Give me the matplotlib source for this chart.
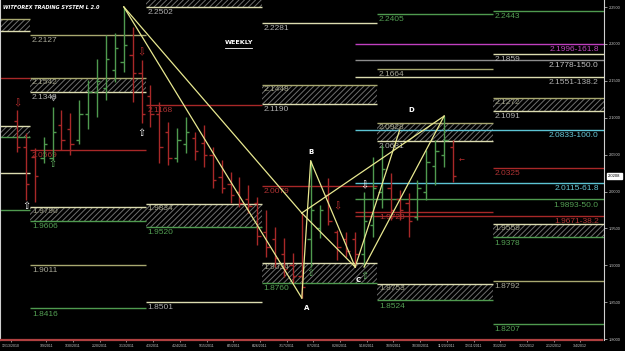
import numpy as np
import matplotlib.pyplot as plt
from matplotlib.patches import Rectangle

# weekly OHLC bars (bar 0 = week of 12/12/2010)
opens = [2.095, 2.060, 2.047, 2.045, 2.045, 2.090, 2.085, 2.070, 2.105, 2.135,
         2.140, 2.165, 2.175, 2.185, 2.160, 2.130, 2.105, 2.080, 2.045, 2.065,
         2.072, 2.066, 2.050, 2.020, 2.010, 2.000, 1.990, 1.985, 1.945, 1.935,
         1.915, 1.900, 1.885, 1.935, 1.950, 1.995, 1.945, 1.935, 1.935, 1.915,
         1.955, 2.000, 2.005, 1.990, 1.985, 1.965, 2.000, 2.035, 2.050, 2.060]
highs = [2.1105, 2.0793, 2.0590, 2.0739, 2.1145, 2.1105, 2.1064, 2.1240, 2.1511, 2.1796,
         2.2121, 2.2148, 2.2502, 2.2229, 2.1782, 2.1443, 2.1213, 2.0942, 2.0861, 2.1010,
         2.0806, 2.0901, 2.0603, 2.0427, 2.0264, 2.0197, 2.0088, 1.9926, 1.9750, 1.9519,
         1.9370, 1.9167, 1.9709, 2.0413, 1.9817, 2.0183, 1.9479, 1.9451, 1.9451, 1.9993,
         2.0468, 2.0630, 2.0251, 2.0021, 1.9980, 2.0156, 2.0563, 2.0698, 2.1023, 2.0698]
lows = [2.0535, 1.9885, 1.9858, 2.0386, 2.0427, 2.0563, 2.0495, 2.0644, 2.0847, 2.1010,
        2.1240, 2.1484, 2.1619, 2.1213, 2.0928, 2.0874, 2.0386, 2.0359, 2.0400, 2.0522,
        2.0427, 2.0332, 2.0048, 1.9980, 1.9844, 1.9790, 1.9709, 1.9275, 1.9113, 1.8977,
        1.8842, 1.8760, 1.8557, 1.8977, 1.9370, 1.9546, 1.9072, 1.9113, 1.8977, 1.8977,
        1.9384, 1.9777, 1.9614, 1.9614, 1.9384, 1.9614, 1.9885, 2.0088, 2.0332, 2.0129]
closes = [2.060, 2.010, 2.021, 2.065, 2.080, 2.070, 2.065, 2.105, 2.135, 2.150,
          2.180, 2.195, 2.199, 2.160, 2.105, 2.105, 2.060, 2.045, 2.070, 2.080,
          2.055, 2.050, 2.015, 2.005, 1.995, 1.985, 1.980, 1.940, 1.925, 1.910,
          1.895, 1.885, 1.870, 1.975, 1.975, 1.960, 1.925, 1.920, 1.915, 1.960,
          2.005, 2.030, 1.975, 1.975, 1.960, 2.005, 2.040, 2.055, 2.070, 2.0208]
last_price = 2.0208

# quarterly pivot periods (in bars)
period_edges = [-1.91, 1.5, 14.5, 27.5, 40.5, 53.5, 65.96]

# single levels: (period, price, label, kind)
levels = [
    (0, 2.1538, '', 'red'), (0, 2.0251, '', 'cream'), (0, 1.9750, '', 'green'),
    (1, 2.2127, '2.2127', 'olive'), (1, 2.0569, '2.0569', 'red'),
    (1, 1.9011, '1.9011', 'olive'), (1, 1.8416, '1.8416', 'green'),
    (2, 2.1168, '2.1168', 'red'), (2, 1.8501, '1.8501', 'cream'),
    (3, 2.2281, '2.2281', 'cream'), (3, 2.0079, '2.0079', 'red'),
    (4, 2.2405, '2.2405', 'green'), (4, 2.1664, '2.1664', 'olive'),
    (5, 2.2443, '2.2443', 'green'), (5, 2.1859, '2.1859', 'cream'),
    (5, 2.0325, '2.0325', 'red'), (5, 1.8792, '1.8792', 'olive'),
    (5, 1.8207, '1.8207', 'green'),
]

# hatched zones: (period, top, bottom, top label, bottom label, side)
zones = [
    (0, 2.2338, 2.2175, '', '', 'hi'), (0, 2.0888, 2.0739, '', '', 'lo'),
    (1, 2.1542, 2.1348, '2.1542', '2.1348', 'hi'), (1, 1.9790, 1.9606, '1.9790', '1.9606', 'lo'),
    (2, 2.2700, 2.2502, '', '2.2502', 'hi'), (2, 1.9834, 1.9520, '1.9834', '1.9520', 'lo'),
    (3, 2.1448, 2.1190, '2.1448', '2.1190', 'hi'), (3, 1.9034, 1.8760, '1.9034', '1.8760', 'lo'),
    (4, 2.0928, 2.0681, '2.0928', '2.0681', 'hi'), (4, 1.8753, 1.8524, '1.8753', '1.8524', 'lo'),
    (5, 2.1272, 2.1091, '2.1272', '2.1091', 'hi'), (5, 1.9559, 1.9378, '1.9559', '1.9378', 'lo'),
]

# AB=CD projection levels, drawn from point C
fib_start = 38
fib_levels = [(2.1996, '2.1996-161.8', 'magenta'), (2.1778, '2.1778-150.0', 'gray'),
              (2.1551, '2.1551-138.2', 'cream'), (2.0833, '2.0833-100.0', 'cyan'),
              (2.0115, '2.0115-61.8', 'cyan'), (1.9893, '1.9893-50.0', 'green'),
              (1.9671, '1.9671-38.2', 'red')]
extra_level = (38, 53.5, 1.9728, '1.9728', 'red')

# harmonic pattern points (bar, price)
pX = (12, 2.2502)
pA = (32, 1.8557)
pA2 = (32, 1.9709)
pB = (33, 2.0413)
pC = (38, 1.8977)
pC2 = (39, 1.8977)
pD = (48, 2.1023)
pT = (43, 2.0833)
pattern_legs = [(pX, pA), (pX, pA2), (pA, pB), (pB, pC), (pA2, pC), (pA2, pD), (pC2, pD), (pC, pT)]
point_labels = [('A', 32.6, 1.842), ('B', 33.0, 2.054), ('C', 38.3, 1.880), ('D', 44.3, 2.111)]

# signal arrows: (bar, price, symbol, colour)
signals = [(0, 2.119, '\u21e9', '#c03030'), (1, 1.981, '\u21e7', 'white'),
           (4, 2.037, '\u21e7', '#60b060'),
           (14, 2.188, '\u21e9', '#c03030'), (14, 2.079, '\u21e7', 'white'),
           (36, 1.980, '\u21e9', '#c03030'), (39, 2.009, '\u21e9', 'white'),
           (33, 1.890, '\u21e7', '#60b060'), (39, 1.885, '\u21e7', '#60b060')]
exit_marks = [(4, 2.127)]

date_labels = ['12/13/2010', '1/9/2011', '1/30/2011', '2/20/2011', '3/13/2011', '4/3/2011',
               '4/24/2011', '5/15/2011', '6/5/2011', '6/26/2011', '7/17/2011', '8/7/2011',
               '8/28/2011', '9/18/2011', '10/9/2011', '10/30/2011', '11/20/2011', '12/11/2011',
               '1/1/2012', '1/22/2012', '2/12/2012', '3/4/2012']
date_bars = [0] + list(range(4, 65, 3))

colors = {'olive': '#a8a870', 'green': '#4f9a4f', 'red': '#a82828', 'cream': '#dcdcb0',
          'gray': '#8c8c8c', 'magenta': '#c040c0', 'cyan': '#5cc4d4'}
label_colors = {'olive': '#a8a898', 'green': '#54a054', 'red': '#b03434', 'cream': '#b0b0b0',
                'gray': '#c0c0c0', 'magenta': '#c048c0', 'cyan': '#68c8d8'}

plt.rcParams['hatch.linewidth'] = 0.7
plt.rcParams['font.family'] = ['Liberation Sans', 'DejaVu Sans']
fig = plt.figure(figsize=(6.25, 3.51), dpi=100, facecolor='black')
ax = fig.add_axes([0.0, 0.0313, 0.9664, 0.9687])
ax.set_facecolor('black')
ax.set_xlim(-1.91, 65.96)
ax.set_ylim(1.7988, 2.2595)

lab_kw = dict(fontsize=6, va='top', ha='left', textcoords='offset points')

# zones
for per, top, bot, tl, bl, side in zones:
    x0, x1 = period_edges[per], period_edges[per + 1]
    ax.add_patch(Rectangle((x0, bot), x1 - x0, top - bot, fill=False, hatch='//////',
                           edgecolor='#6e6e6e', linewidth=0, zorder=1))
    top_c = colors['olive'] if side == 'hi' else colors['cream']
    bot_c = colors['cream'] if side == 'hi' else colors['green']
    ax.hlines(top, x0, x1, color=top_c, lw=1, zorder=2)
    ax.hlines(bot, x0, x1, color=bot_c, lw=1, zorder=2)
    if tl:
        ax.annotate(tl, (x0 + 0.1, top), xytext=(0.5, -1), color='#a0a088', **lab_kw)
    if bl:
        ax.annotate(bl, (x0 + 0.1, bot), xytext=(0.5, -1.5),
                    color='#b0b0b0' if side == 'hi' else '#54a054', **lab_kw)

# pivot lines
for per, price, lab, kind in levels:
    x0, x1 = period_edges[per], period_edges[per + 1]
    ax.hlines(price, x0, x1, color=colors[kind], lw=1, zorder=2)
    if lab:
        ax.annotate(lab, (x0 + 0.1, price), xytext=(0.5, -1.5), color=label_colors[kind], **lab_kw)

x0, x1, price, lab, kind = extra_level
ax.hlines(price, x0, x1, color=colors[kind], lw=1, zorder=2)
ax.annotate(lab, (period_edges[4] + 0.1, price), xytext=(0.5, -1.5), color=label_colors[kind], **lab_kw)

# projection levels
for price, lab, kind in fib_levels:
    ax.hlines(price, fib_start, period_edges[-1], color=colors[kind], lw=1, zorder=2)
    ax.annotate(lab, (period_edges[-1] - 0.6, price), xytext=(0, -1.5), color=label_colors[kind],
                fontsize=6, va='top', ha='right', textcoords='offset points')

# OHLC bars
x = np.arange(len(opens))
up = np.array(closes) >= np.array(opens)
bar_c = np.where(up, '#4f9a4f', '#a82828')
ax.vlines(x, lows, highs, colors=bar_c, lw=1, zorder=3)
ax.hlines(opens, x - 0.38, x, colors=bar_c, lw=1, zorder=3)
ax.hlines(closes, x, x + 0.38, colors=bar_c, lw=1, zorder=3)

# pattern
for p, q in pattern_legs:
    ax.plot([p[0], q[0]], [p[1], q[1]], color='#e8e890', lw=0.9, zorder=4)
for lab, bx, py in point_labels:
    ax.text(bx, py, lab, color='white', fontsize=5, fontweight='bold', ha='center', va='center',
            family='DejaVu Sans', zorder=5)

for bx, py, sym, c in signals:
    ax.text(bx, py, sym, color=c, fontsize=7, ha='center', va='center', family='DejaVu Sans', zorder=5)
for bx, py in exit_marks:
    ax.plot(bx, py, marker='v', ms=3.5, mfc='none', mec='#a0a0a0', mew=0.6, zorder=5)
ax.text(49.6, 2.0413, '\u2190', color='#c03030', fontsize=5, ha='left', va='center',
        family='DejaVu Sans', zorder=5)

# texts
ax.text(0.005, 0.985, 'WITFOREX TRADING SYSTEM L 2.0', transform=ax.transAxes, color='white',
        fontsize=3.6, fontweight='bold', fontstyle='italic', va='top', ha='left', family='DejaVu Sans')
ax.text(0.395, 0.875, 'WEEKLY', transform=ax.transAxes, color='white', fontsize=4.6,
        fontweight='bold', ha='center', va='center', family='DejaVu Sans')
ax.plot([0.372, 0.418], [0.86, 0.86], transform=ax.transAxes, color='white', lw=0.6)

# axes
ax.spines['top'].set_visible(False)
ax.spines['left'].set_color('#d0d0d0')
ax.spines['right'].set_color('#d0d0d0')
ax.spines['bottom'].set_color('#b04040')
ax.spines['bottom'].set_linewidth(1.6)
ax.spines['bottom'].set_linestyle((0, (1, 1)))
ax.yaxis.tick_right()
yt = np.arange(1.80, 2.2501, 0.05)
ax.set_yticks(yt)
ax.set_yticklabels(['%.4f' % v for v in yt])
ax.tick_params(axis='y', colors='#d0d0d0', labelsize=2.8, length=2, width=0.5, pad=1.5)
ax.set_xticks(np.array(date_bars) - 0.7)
ax.set_xticklabels(date_labels)
ax.tick_params(axis='x', colors='#c8c8c8', labelsize=2.5, length=1.5, width=0.5, pad=1.5)

ax.annotate('%.4f' % last_price, (1.0, last_price), xycoords=('axes fraction', 'data'),
            xytext=(3, 0), textcoords='offset points', fontsize=3, color='black', va='center',
            ha='left', bbox=dict(boxstyle='square,pad=0.25', fc='white', ec='white'))

fig.savefig('out.png', dpi=100, facecolor='black')
